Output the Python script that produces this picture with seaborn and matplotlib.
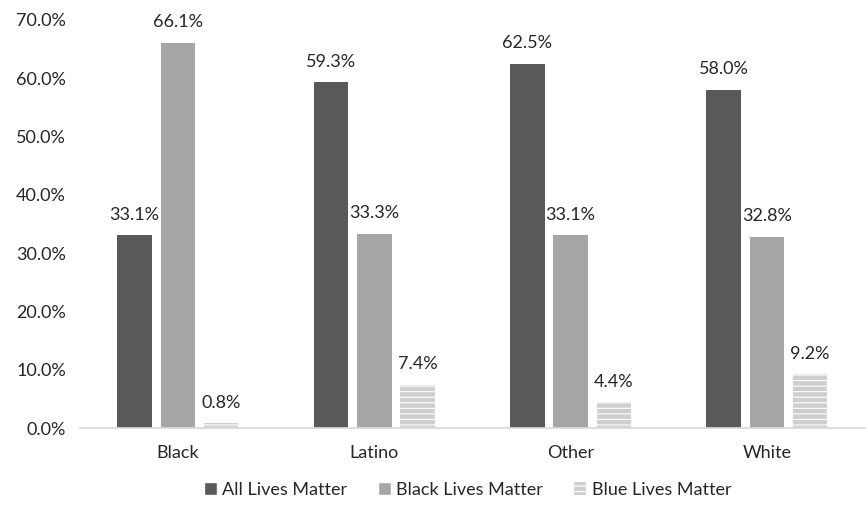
import matplotlib
matplotlib.use("Agg")
import matplotlib.pyplot as plt
import seaborn as sns
import pandas as pd
from matplotlib.patches import Patch

categories = ["Black", "Latino", "Other", "White"]
series = ["All Lives Matter", "Black Lives Matter", "Blue Lives Matter"]
all_lives = [33.1, 59.3, 62.5, 58.0]
black_lives = [66.1, 33.3, 33.1, 32.8]
blue_lives = [0.8, 7.4, 4.4, 9.2]
yticks = [0, 10, 20, 30, 40, 50, 60, 70]

sns.set_theme(style="white")
plt.rcParams['font.family'] = ['Lato', 'DejaVu Sans']
plt.rcParams['hatch.linewidth'] = 0.8
plt.rcParams['hatch.color'] = 'white'

rows = []
for s, vals in zip(series, [all_lives, black_lives, blue_lives]):
    for c, v in zip(categories, vals):
        rows.append({"cat": c, "series": s, "value": v})
df = pd.DataFrame(rows)

colors = ["#595959", "#a6a6a6", "#cfcfcf"]
FS = 13

fig = plt.figure(figsize=(8.66, 5.12), dpi=100)
ax = fig.add_axes([0.092, 0.164, 0.907, 0.797])
sns.barplot(data=df, x="cat", y="value", hue="series", palette=colors,
            width=0.66, gap=0.2, ax=ax, legend=False, saturation=1)

for i, cont in enumerate(ax.containers):
    for p in cont:
        p.set_linewidth(0)
        if i == 2:
            p.set_hatch('---')
            p.set_edgecolor('white')
            p.set_linewidth(0)
    ax.bar_label(cont, labels=[f"{v:.1f}%" for v in cont.datavalues],
                 padding=9, fontsize=FS, color="#262626")

ax.set_ylim(0, 70)
ax.set_yticks(yticks)
ax.set_yticklabels([f"{t:.1f}%" for t in yticks], fontsize=FS, color="#262626")
ax.set_xlim(-0.5, 3.5)
ax.tick_params(axis='x', labelsize=FS, colors="#262626", length=0, pad=12)
ax.tick_params(axis='y', length=0, pad=10)
ax.set_xlabel("")
ax.set_ylabel("")
for side in ["top", "right", "left"]:
    ax.spines[side].set_visible(False)
ax.spines["bottom"].set_color("#d9d9d9")

handles = [Patch(facecolor=colors[0]), Patch(facecolor=colors[1]),
           Patch(facecolor=colors[2], hatch='---', edgecolor='white', linewidth=0)]
fig.legend(handles, series, loc="center", bbox_to_anchor=(0.54, 0.043), ncol=3,
           frameon=False, fontsize=FS, handlelength=0.7, handleheight=0.7,
           handletextpad=0.3, columnspacing=1.7, labelcolor="#262626")

fig.savefig("out.png", dpi=100)
